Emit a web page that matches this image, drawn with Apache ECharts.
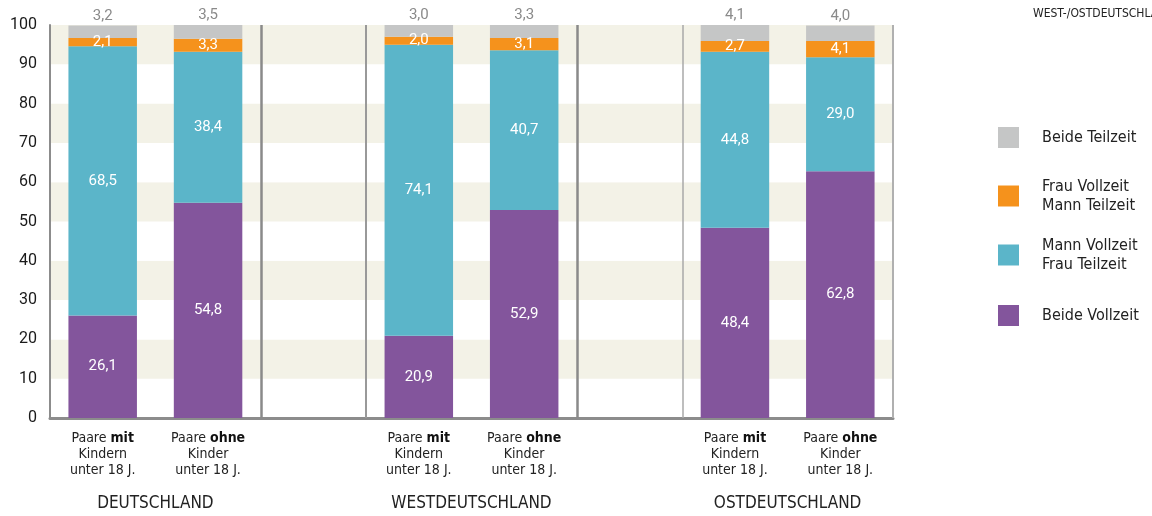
<!DOCTYPE html>
<html>
<head>
<meta charset="utf-8">
<script src="https://cdn.jsdelivr.net/npm/echarts@6/dist/echarts.min.js"></script>
<style>html,body{margin:0;padding:0;background:#fff}#c{width:1152px;height:516px}</style>
</head>
<body>
<div id="c"></div>
<script>
const categories = ['D_mit','D_ohne','gap1','W_mit','W_ohne','gap2','O_mit','O_ohne'];
const categoryKind = ['mit','ohne','','mit','ohne','','mit','ohne'];
const groupLabels = {1:'DEUTSCHLAND', 4:'WESTDEUTSCHLAND', 7:'OSTDEUTSCHLAND'};
const beideVollzeit = [26.1, 54.8, '-', 20.9, 52.9, '-', 48.4, 62.8];
const mannVollzeit  = [68.5, 38.4, '-', 74.1, 40.7, '-', 44.8, 29.0];
const frauVollzeit  = [2.1, 3.3, '-', 2.0, 3.1, '-', 2.7, 4.1];
const beideTeilzeit = [3.2, 3.5, '-', 3.0, 3.3, '-', 4.1, 4.0];
const yTicks = [0,10,20,30,40,50,60,70,80,90,100];
const separators = [2, 3, 5, 6, 8];

const NARROW = "'Liberation Sans Narrow', 'DejaVu Sans Condensed', 'Roboto', sans-serif";
const C = {bt:'#c5c6c6', fv:'#f5921c', mv:'#5bb5c9', bv:'#83559c'};
const names = {bt:'Beide Teilzeit', fv:'Frau Vollzeit\nMann Teilzeit', mv:'Mann Vollzeit\nFrau Teilzeit', bv:'Beide Vollzeit'};
const fmt = p => (typeof p.value === 'number') ? p.value.toFixed(1).replace('.', ',') : '';

function barSeries(key, data, labelPos, labelColor) {
  return {
    name: names[key], type: 'bar', stack: 'a', xAxisIndex: 0, yAxisIndex: 0,
    data: data, barWidth: '65%', itemStyle: {color: C[key]},
    label: {show: true, position: labelPos, distance: 2, color: labelColor, fontFamily: 'Roboto', fontSize: 15, formatter: fmt},
    emphasis: {disabled: true}, silent: true
  };
}

const sepStyle = [
  {width: 2.5, color: '#8a8a8a'},
  {width: 2, color: '#999999'},
  {width: 2.5, color: '#8a8a8a'},
  {width: 1.5, color: '#a8a8a8'},
  {width: 2, color: '#b0b0b0'}
];

function legendItem(key, top) {
  return {
    data: [names[key]], left: 998, top: top, orient: 'vertical', padding: 0,
    itemWidth: 21, itemHeight: 21, icon: 'rect', selectedMode: false,
    textStyle: {fontFamily: NARROW, fontSize: 16, color: '#222', lineHeight: 19, padding: [0,0,0,18]}
  };
}

const option = {
  animation: false,
  backgroundColor: '#fff',
  grid: {left: 50, right: 259, top: 25, bottom: 98, containLabel: false},
  legend: [legendItem('bt', 127), legendItem('fv', 177), legendItem('mv', 236), legendItem('bv', 305)],
  graphic: [{
    type: 'text', left: 1033, top: 8,
    style: {text: 'WEST-/OSTDEUTSCHLAND', fontFamily: NARROW, fontSize: 12, fill: '#222'}
  }],
  xAxis: [{
    type: 'category', data: categories, boundaryGap: true,
    axisLine: {show: true, lineStyle: {color: '#8c8c8c', width: 3}},
    axisTick: {show: false},
    axisLabel: {
      interval: 0, margin: 12, color: '#222', fontFamily: NARROW, fontSize: 14, lineHeight: 16, align: 'center',
      formatter: (v, i) => {
        const k = categoryKind[i];
        if (k === 'mit') return '{n|Paare }{b|mit}\n{n|Kindern}\n{n|unter 18 J.}';
        if (k === 'ohne') return '{n|Paare }{b|ohne}\n{n|Kinder}\n{n|unter 18 J.}';
        return '';
      },
      rich: {
        n: {fontFamily: NARROW, fontSize: 14, lineHeight: 16, color: '#222'},
        b: {fontFamily: NARROW, fontSize: 14, lineHeight: 16, color: '#111', fontWeight: 'bold'}
      }
    },
    splitLine: {show: false}
  }, {
    type: 'value', min: 0, max: 8, interval: 1, position: 'bottom',
    axisLine: {show: false}, axisTick: {show: false}, splitLine: {show: false},
    axisLabel: {
      show: true, margin: 77, color: '#222', fontFamily: NARROW, fontSize: 17,
      formatter: v => groupLabels[v] || ''
    }
  }],
  yAxis: [{
    type: 'value', min: 0, max: 100, interval: 10,
    axisLine: {show: true, lineStyle: {color: '#8c8c8c', width: 2}},
    axisTick: {show: false},
    axisLabel: {margin: 13, color: '#1a1a1a', fontFamily: 'Roboto', fontSize: 16,
      formatter: v => yTicks.includes(v) ? String(v) : ''},
    splitLine: {show: false},
    splitArea: {show: true, areaStyle: {color: ['#ffffff', '#f3f2e7']}}
  }],
  series: [
    barSeries('bv', beideVollzeit, 'inside', '#ffffff'),
    barSeries('mv', mannVollzeit, 'inside', '#ffffff'),
    barSeries('fv', frauVollzeit, 'inside', '#ffffff'),
    barSeries('bt', beideTeilzeit, 'top', '#8a8a8a'),
    {
      type: 'scatter', xAxisIndex: 1, yAxisIndex: 0, data: [[0, 0]], symbolSize: 0, silent: true,
      markLine: {
        silent: true, symbol: 'none', label: {show: false}, animation: false,
        data: separators.map((x, i) => ({xAxis: x, lineStyle: Object.assign({type: 'solid'}, sepStyle[i])}))
      }
    }
  ]
};

const chart = echarts.init(document.getElementById('c'), null, {renderer: 'canvas'});
chart.setOption(option);
</script>
</body>
</html>
